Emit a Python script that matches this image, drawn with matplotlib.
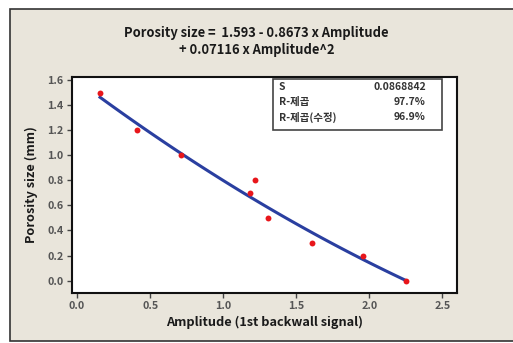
import numpy as np
import matplotlib.pyplot as plt
from matplotlib.patches import Rectangle

plt.rcParams['font.family'] = ['Noto Sans CJK KR', 'DejaVu Sans']

# measured points
amplitude = [0.157, 0.41, 0.71, 1.185, 1.217, 1.306, 1.607, 1.96, 2.25]
porosity = [1.49, 1.20, 1.00, 0.70, 0.80, 0.50, 0.30, 0.20, 0.00]

# fitted model: b0 + b1*x + b2*x^2
coef = [1.593, -0.8673, 0.07116]

stat_names = ['S', 'R-제곱', 'R-제곱(수정)']
stat_values = ['0.0868842', '97.7%', '96.9%']

xticks = [0.0, 0.5, 1.0, 1.5, 2.0, 2.5]
yticks = [0.0, 0.2, 0.4, 0.6, 0.8, 1.0, 1.2, 1.4, 1.6]

fig = plt.figure(figsize=(5.13, 3.43), dpi=100, facecolor='white')
fig.patches.append(Rectangle((10 / 513, 2 / 343), 1.0, 332 / 343, transform=fig.transFigure,
                             facecolor='#e9e5db', edgecolor='#333333', linewidth=1.2, zorder=-5))

ax = fig.add_axes([72 / 513, 50 / 343, 385 / 513, 216 / 343])
ax.set_facecolor('white')

xs = np.linspace(min(amplitude), max(amplitude), 100)
ys = np.polyval(coef[::-1], xs)
ax.plot(xs, ys, color='#2a3fa0', linewidth=2.2, zorder=2)
ax.scatter(amplitude, porosity, color='#e8161b', s=18, zorder=3, linewidths=0)

ax.set_xlim(-0.035, 2.6)
ax.set_ylim(-0.098, 1.62)
ax.set_xticks(xticks)
ax.set_yticks(yticks)
ax.set_xticklabels([f'{t:.1f}' for t in xticks])
ax.set_yticklabels([f'{t:.1f}' for t in yticks])
ax.tick_params(direction='out', length=3.5, width=1, color='#444444', labelsize=7.8,
               labelcolor='#555555', pad=2.5)
for lab in ax.get_xticklabels() + ax.get_yticklabels():
    lab.set_fontweight('bold')
for sp in ax.spines.values():
    sp.set_linewidth(1.5)
    sp.set_color('#111111')

ax.set_xlabel('Amplitude (1st backwall signal)', fontsize=9.2, fontweight='bold',
              labelpad=3, color='#1a1a1a')
ax.set_ylabel('Porosity size (mm)', fontsize=9.2, fontweight='bold', labelpad=7,
              color='#1a1a1a')

fig.text(0.5, 1 - 33 / 343, 'Porosity size =  1.593 - 0.8673 x Amplitude',
         ha='center', va='center', fontsize=9.3, fontweight='bold', color='#1a1a1a')
fig.text(0.5, 1 - 50 / 343, '+ 0.07116 x Amplitude^2',
         ha='center', va='center', fontsize=9.3, fontweight='bold', color='#1a1a1a')

# stats box
ax.add_patch(Rectangle((273 / 513, 213 / 343), 169 / 513, 51 / 343, transform=fig.transFigure,
                       facecolor='white', edgecolor='#444444', linewidth=1.2, zorder=4))
for i, (name, val) in enumerate(zip(stat_names, stat_values)):
    yy = 1 - (87 + i * 15) / 343
    fig.text(279 / 513, yy, name, ha='left', va='center', fontsize=7.5,
             fontweight='bold', color='#333333', zorder=5)
    fig.text(426 / 513, yy, val, ha='right', va='center', fontsize=7.5,
             fontweight='bold', color='#333333', zorder=5)

plt.savefig('out.png', dpi=100, facecolor=fig.get_facecolor())
